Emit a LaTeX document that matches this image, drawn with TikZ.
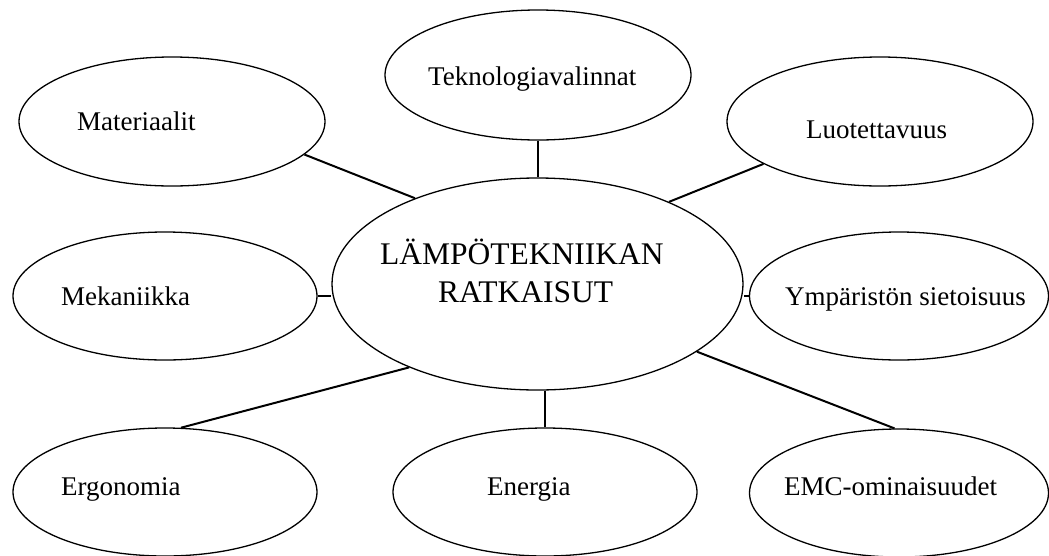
\documentclass[tikz,border=0pt]{standalone}
\usepackage{fontspec}
\setmainfont{Liberation Serif}
\usetikzlibrary{shapes.geometric}
\tikzset{
  bub/.style={ellipse, draw, line width=1.3pt, inner sep=0pt},
  conn/.style={line width=2pt},
  lbl/.style={inner sep=0pt, anchor=base west, font=\fontsize{27}{32}\selectfont},
  bigl/.style={inner sep=0pt, anchor=base west, font=\fontsize{31.5}{38}\selectfont}
}
\begin{document}
\begin{tikzpicture}[x=1pt,y=-1pt]
\useasboundingbox (0,0) rectangle (1049,555);
% ellipses
\node[bub, minimum width=411pt, minimum height=212pt] (c) at (537.5,284) {};
\node[bub, minimum width=306pt, minimum height=129pt] (mat) at (172,121.5) {};
\node[bub, minimum width=306pt, minimum height=130pt] (tek) at (538,75) {};
\node[bub, minimum width=306pt, minimum height=129pt] (luo) at (880,121.5) {};
\node[bub, minimum width=304pt, minimum height=128pt] (mek) at (165,296) {};
\node[bub, minimum width=299pt, minimum height=128pt] (ymp) at (899,296) {};
\node[bub, minimum width=304pt, minimum height=128pt] (erg) at (165,492) {};
\node[bub, minimum width=304pt, minimum height=128pt] (en) at (545,492) {};
\node[bub, minimum width=299pt, minimum height=128pt] (emc) at (899,493) {};
% texts
\node[bigl] (cT1) at (380,264) {LÄMPÖTEKNIIKAN};
\node[bigl] (cT2) at (438,302) {RATKAISUT};
\node[lbl] (matT) at (77,130) {Materiaalit};
\node[lbl] (tekT) at (428,85) {Teknologiavalinnat};
\node[lbl] (luoT) at (806,138) {Luotettavuus};
\node[lbl] (mekT) at (61,305) {Mekaniikka};
\node[lbl] (ympT) at (785,305) {Ympäristön sietoisuus};
\node[lbl] (ergT) at (61,495) {Ergonomia};
\node[lbl] (enT) at (487,495) {Energia};
\node[lbl] (emcT) at (784,495) {EMC-ominaisuudet};
% connectors
\draw[conn] (mat.-14.5) -- (c.145.6);
\draw[conn] (luo.-160.2) -- (c.32.5);
\draw[conn] (erg.76.8) -- (c.213.2);
\draw[conn] (emc.94.5) -- (c.-23.4);
\draw[conn] (tek.south) -- (tek.south |- c.north);
\draw[conn] (en.north) -- (en.north |- c.south);
\draw[conn] (mek.east) -- (mek.east -| c.west);
\draw[conn] (ymp.west) -- (ymp.west -| c.east);
\end{tikzpicture}
\end{document}
